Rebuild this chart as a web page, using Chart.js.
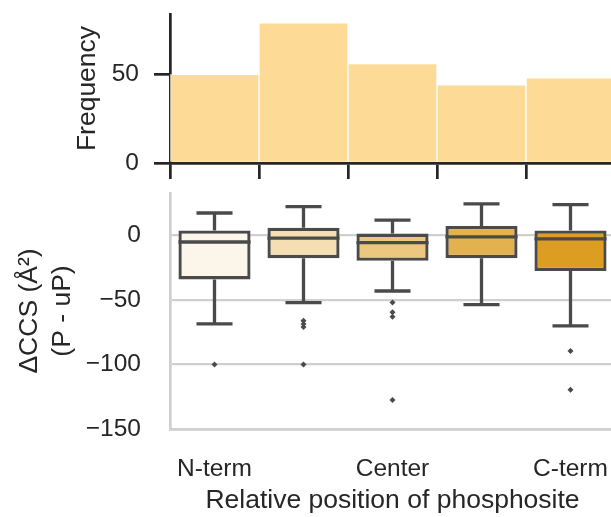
<!DOCTYPE html>
<html>
<head>
<meta charset="utf-8">
<script src="https://cdn.jsdelivr.net/npm/chart.js@4.4.0/dist/chart.umd.min.js"></script>
<style>
  body { margin: 0; background: #fff; overflow: hidden; }
  #wrap { position: relative; width: 611px; height: 517px; overflow: hidden; }
  canvas { position: absolute; left: 0; }
  #hist { top: 0; }
  #box { top: 185px; }
</style>
</head>
<body>
<div id="wrap">
  <canvas id="hist" width="640" height="185"></canvas>
  <canvas id="box" width="640" height="332"></canvas>
</div>
<script>
// --- data
var positions = ['N-term', 'N-mid', 'Center', 'C-mid', 'C-term'];
var xTickLabels = ['N-term', '', 'Center', '', 'C-term'];
var frequency = [50, 79, 56, 44, 48];
var freqTicks = [0, 50];
var dccsTicks = [-150, -100, -50, 0];

var whiskerLow = [-68.5, -52, -43, -53.5, -70];
var q1 = [-34, -17.5, -19.5, -17.5, -27.5];
var median = [-5, -2, -5.5, -1, -2.5];
var q3 = [4, 6, 1.5, 7.5, 4];
var whiskerHigh = [17.5, 22.5, 12, 24.5, 24];
var outliers = [[-100], [-66, -68.5, -71, -100], [-52, -59.5, -63, -127.5], [], [-89.5, -119.5]];

var boxColors = ['#fcf5e9', '#f5dfb2', '#ecc77f', '#e4b14f', '#db9d22'];
var histColor = '#fddb96';
var dark = '#262626';
var lineGray = '#4a4a4a';
var gridGray = '#cfcfcf';

Chart.defaults.font.family = "'Liberation Sans', Arial, sans-serif";
Chart.defaults.color = dark;

function minus(v) { return String(v).replace('-', '\u2212'); }

// drop the extra space chart.js keeps for half tick labels
function noPad(scale) {
    scale.paddingTop = 0; scale.paddingBottom = 0;
    scale.paddingLeft = 0; scale.paddingRight = 0;
}

// --- top: histogram
new Chart(document.getElementById('hist'), {
    type: 'bar',
    data: {
        labels: positions,
        datasets: [{
            data: frequency,
            backgroundColor: histColor,
            borderColor: 'rgba(255,255,255,0.55)',
            borderWidth: 1,
            barPercentage: 1,
            categoryPercentage: 1
        }]
    },
    options: {
        responsive: false,
        animation: false,
        layout: { padding: { top: 14, right: 25, left: 0, bottom: 0 } },
        plugins: { legend: { display: false }, tooltip: { enabled: false } },
        scales: {
            x: {
                type: 'category',
                offset: true,
                grid: { offset: true, drawOnChartArea: false, drawTicks: true, tickLength: 16, color: dark, lineWidth: 2.7 },
                border: { display: true, color: dark, width: 2.7 },
                ticks: { display: false },
                afterFit: function (scale) { scale.height = 22; noPad(scale); }
            },
            y: {
                min: 0,
                max: 84,
                grid: { drawOnChartArea: false, drawTicks: true, tickLength: 16, color: dark, lineWidth: 2.7 },
                border: { display: true, color: dark, width: 2.7 },
                ticks: { padding: 15, font: { size: 24.5 }, color: dark },
                afterBuildTicks: function (scale) { scale.ticks = freqTicks.map(v => ({ value: v })); },
                title: { display: true, text: 'Frequency', font: { size: 26.5, lineHeight: 1.22 }, color: dark, padding: { top: 72, bottom: 0 } },
                afterFit: function (scale) { scale.width = 170; noPad(scale); }
            }
        }
    }
});

// --- bottom: box plot (boxes are floating bars, whiskers/medians drawn from the scales)
var boxParts = {
    id: 'boxParts',
    afterDatasetsDraw: function (chart) {
        var ctx = chart.ctx;
        var xs = chart.scales.x, ys = chart.scales.y;
        var bars = chart.getDatasetMeta(0).data;
        ctx.save();
        ctx.strokeStyle = lineGray;
        ctx.lineWidth = 3.3;
        ctx.lineCap = 'butt';
        positions.forEach(function (p, i) {
            var cx = xs.getPixelForValue(i);
            var half = bars[i].width / 2;
            var cap = half / 2;
            var yLo = ys.getPixelForValue(whiskerLow[i]);
            var yQ1 = ys.getPixelForValue(q1[i]);
            var yQ3 = ys.getPixelForValue(q3[i]);
            var yHi = ys.getPixelForValue(whiskerHigh[i]);
            var yMed = ys.getPixelForValue(median[i]);
            ctx.beginPath();
            ctx.moveTo(cx, yQ1); ctx.lineTo(cx, yLo);
            ctx.moveTo(cx, yQ3); ctx.lineTo(cx, yHi);
            ctx.moveTo(cx - cap, yLo); ctx.lineTo(cx + cap, yLo);
            ctx.moveTo(cx - cap, yHi); ctx.lineTo(cx + cap, yHi);
            ctx.moveTo(cx - half, yMed); ctx.lineTo(cx + half, yMed);
            ctx.stroke();
        });
        ctx.restore();
    }
};

var outlierPoints = [];
outliers.forEach(function (list, i) {
    list.forEach(function (v) { outlierPoints.push({ x: positions[i], y: v }); });
});

new Chart(document.getElementById('box'), {
    type: 'bar',
    data: {
        labels: positions,
        datasets: [{
            data: positions.map((p, i) => [q1[i], q3[i]]),
            backgroundColor: boxColors,
            borderColor: lineGray,
            borderWidth: 3.3,
            borderSkipped: false,
            barPercentage: 0.81,
            categoryPercentage: 1
        }, {
            type: 'scatter',
            data: outlierPoints,
            pointStyle: 'rectRot',
            radius: 3,
            backgroundColor: lineGray,
            borderWidth: 0
        }]
    },
    options: {
        responsive: false,
        animation: false,
        layout: { padding: { top: 8, right: 25, left: 0, bottom: 0 } },
        plugins: { legend: { display: false }, tooltip: { enabled: false } },
        scales: {
            x: {
                type: 'category',
                labels: positions,
                offset: true,
                grid: { display: false, drawTicks: false },
                border: { display: true, color: gridGray, width: 2.7 },
                ticks: { padding: 26, font: { size: 24.5 }, color: dark, autoSkip: false, maxRotation: 0,
                    callback: function (v, i) { return xTickLabels[i]; } },
                title: { display: true, text: 'Relative position of phosphosite', font: { size: 26.5, lineHeight: 1.22 }, color: dark, padding: { top: 0, bottom: 0 } },
                afterFit: function (scale) { scale.height = 88; noPad(scale); }
            },
            y: {
                min: -150,
                max: 33,
                grid: { drawTicks: false, color: gridGray, lineWidth: 2.2 },
                border: { display: true, color: gridGray, width: 2.7 },
                ticks: { padding: 29, font: { size: 24.5 }, color: dark, callback: minus },
                afterBuildTicks: function (scale) { scale.ticks = dccsTicks.map(v => ({ value: v })); },
                title: { display: true, text: ['ΔCCS (Å²)', '(P - uP)'], font: { size: 26.5, lineHeight: 1.22 }, color: dark, padding: { top: 14, bottom: 0 } },
                afterFit: function (scale) { scale.width = 170; noPad(scale); }
            }
        }
    },
    plugins: [boxParts]
});
</script>
</body>
</html>
